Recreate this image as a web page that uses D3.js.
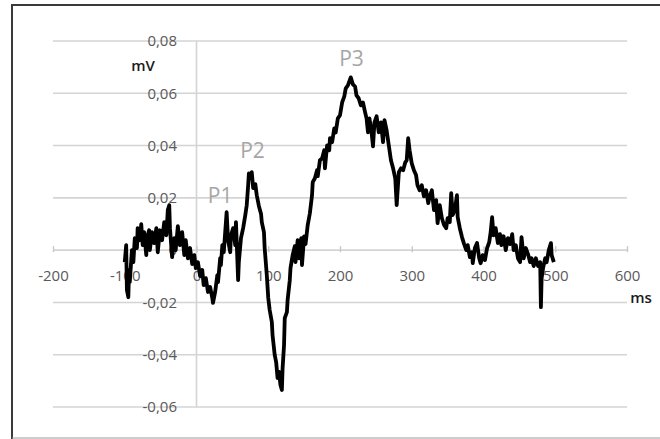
<!DOCTYPE html>
<html>
<head>
<meta charset="utf-8">
<script src="https://cdn.jsdelivr.net/npm/d3@7"></script>
<style>
  html, body { margin: 0; padding: 0; background: #fff; }
  svg { display: block; }
</style>
</head>
<body>
<svg id="chart" width="660" height="439"></svg>
<script>
// ---- data ----
const timesMs = [
  -100,-98,-97,-95,-94,-93,-90,-88,-86,-83,-82,-79,-77,-75,-73,-70,-69,-66,-65,-62,
  -59,-56,-54,-51,-48,-45,-42,-40,-38,-37,-34,-31,-29,-26,-23,-20,-17,-15,-12,-9,
  -6,-3,-1,2,5,8,10,13,16,19,22,23,26,29,30,33,34,36,38,40,
  42,44,47,48,51,54,55,58,59,62,65,68,70,72,73,76,77,79,82,84,
  87,90,91,94,95,98,100,102,105,106,109,111,113,115,117,119,120,122,123,126,
  127,130,131,134,137,138,141,143,146,147,150,152,155,158,161,162,165,168,169,172,
  175,178,179,182,185,186,189,192,194,197,200,203,206,208,211,214,215,218,221,223,
  226,229,232,235,237,239,241,244,246,248,251,254,257,260,262,265,268,271,274,277,
  279,282,285,288,291,293,295,297,300,303,306,308,311,314,317,320,323,325,328,331,
  334,336,339,342,345,348,350,353,355,357,360,363,364,367,370,373,376,378,381,384,
  385,388,391,394,396,399,402,405,408,410,412,414,417,420,423,425,428,431,434,437,
  440,442,445,448,451,453,456,459,462,465,467,470,473,476,479,480,481,483,486,488,
  491,494,495,498
];
const valuesMv = [
  -0.0046,0.0019,-0.0153,-0.018,-0.0076,-0.0122,0,-0.0046,0.0046,0.0008,0.0084,0.0038,0.0099,0.0019,0.0069,-0.0019,0.0046,0.0076,0,0.0069,
  0.0027,0.0084,-0.0008,0.0076,0.0038,0.0107,0.0057,0.0153,0.0172,0.0084,-0.0027,0.0046,0,0.0092,0.0019,0.0069,-0.0019,0.0038,-0.0031,0.0008,
  -0.0053,-0.0019,-0.0069,-0.0046,-0.0099,-0.0076,-0.0134,-0.0107,-0.016,-0.0141,-0.0183,-0.0202,-0.016,-0.0096,-0.0122,-0.0031,-0.0057,0.0019,-0.0008,0.0069,
  0.0145,0.0038,-0.0008,0.0057,0.0084,0.0019,0.0107,-0.0115,-0.0046,0.0046,0.0084,0.0134,0.0172,0.0248,0.0294,0.0275,0.0298,0.0237,0.0252,0.021,
  0.0168,0.0138,0.0107,0.0069,0.0008,-0.0096,-0.0183,-0.0229,-0.0275,-0.0325,-0.0401,-0.0428,-0.0489,-0.0466,-0.0516,-0.0535,-0.0451,-0.0363,-0.026,-0.0237,
  -0.0191,-0.0115,-0.0069,-0.0019,0.0015,-0.0046,0.0038,-0.0031,0.0046,-0.0057,0.0053,0.0023,0.0096,0.0141,0.021,0.026,0.0275,0.0306,0.0283,0.0344,
  0.0351,0.0382,0.0313,0.0401,0.0382,0.0428,0.0413,0.0466,0.045,0.0504,0.0516,0.0565,0.0588,0.0619,0.063,0.0653,0.0661,0.0634,0.0626,0.0592,
  0.0581,0.0554,0.0565,0.0527,0.0504,0.0451,0.0504,0.0451,0.0397,0.0489,0.0512,0.0451,0.0489,0.0413,0.0497,0.0458,0.0401,0.0344,0.0313,0.0275,
  0.0172,0.0298,0.0313,0.0306,0.0336,0.0344,0.0428,0.0382,0.0332,0.0306,0.0287,0.0248,0.0229,0.0248,0.0206,0.0229,0.018,0.0206,0.0229,0.0153,
  0.0191,0.0103,0.0172,0.0122,0.0096,0.0084,0.0122,0.0107,0.0218,0.0134,0.0153,0.021,0.0126,0.0084,0.005,0.0023,0,0.0019,-0.0027,-0.0008,
  -0.005,0.0008,0.0027,-0.0031,-0.005,-0.0019,-0.0038,0.0008,0.0031,0.0069,0.0126,0.0057,0.0084,0.0027,0.0061,0.0019,0.0053,0,0.0046,0.0023,
  0.0061,0,0.0019,-0.0031,-0.0046,0.005,-0.0031,0.0008,-0.0015,-0.0046,-0.0031,-0.0061,-0.0031,-0.0061,-0.0046,-0.0218,-0.0107,-0.0069,-0.0031,-0.0046,
  0,0.0027,-0.0019,-0.0046
];
const xTicks = [-200, -100, 0, 100, 200, 300, 400, 500, 600];
const yTicks = [-0.06, -0.04, -0.02, 0, 0.02, 0.04, 0.06, 0.08];
const peakLabels = ["P1", "P2", "P3"];
const peakTimes = [33, 78, 216];
const peakValues = [0.0182, 0.0352, 0.0703];

// ---- drawing ----
const svg = d3.select("#chart");
const x = d3.scaleLinear().domain([-200, 600]).range([53, 627]);
const y = d3.scaleLinear().domain([-0.06, 0.08]).range([407, 41]);
const fmtY = v => v === 0 ? "0" : v.toFixed(2).replace(".", ",");
const fontFam = "'Open Sans', sans-serif";

// frame
svg.append("line").attr("x1", 12).attr("y1", 5).attr("x2", 660).attr("y2", 5)
  .attr("stroke", "#3a3a3a").attr("stroke-width", 2);
svg.append("line").attr("x1", 12).attr("y1", 4).attr("x2", 12).attr("y2", 439)
  .attr("stroke", "#3a3a3a").attr("stroke-width", 2);
svg.append("line").attr("x1", 12).attr("y1", 438).attr("x2", 660).attr("y2", 438)
  .attr("stroke", "#9a9a9a").attr("stroke-width", 1);

// horizontal gridlines
svg.append("g").selectAll("line").data(yTicks).join("line")
  .attr("x1", x(-200)).attr("x2", x(600))
  .attr("y1", d => y(d)).attr("y2", d => y(d))
  .attr("stroke", "#d4d4d4").attr("stroke-width", 1.6);

// vertical axis at x=0
svg.append("line").attr("x1", x(0)).attr("x2", x(0))
  .attr("y1", y(0.08)).attr("y2", y(-0.06))
  .attr("stroke", "#d4d4d4").attr("stroke-width", 1.6);

// x-axis through y=0
const xAxis = d3.axisBottom(x).tickValues(xTicks).tickSizeInner(3).tickSizeOuter(0)
  .tickFormat(d => String(d)).tickPadding(17);
const gx = svg.append("g").attr("transform", `translate(0,${y(0)})`).call(xAxis);
gx.select(".domain").remove();
gx.selectAll(".tick line").attr("y1", -4).attr("y2", 2).attr("stroke", "#c8c8c8").attr("stroke-width", 1.4);
gx.selectAll(".tick text").attr("fill", "#595959")
  .style("font-family", fontFam).style("font-size", "15px");

// y-axis labels
const yAxis = d3.axisLeft(y).tickValues(yTicks).tickSize(0).tickPadding(0).tickFormat(fmtY);
const gy = svg.append("g").attr("transform", `translate(177,0)`).call(yAxis);
gy.select(".domain").remove();
gy.selectAll(".tick text").attr("fill", "#595959")
  .style("font-family", fontFam).style("font-size", "15px");

// axis titles
svg.append("text").attr("x", 143).attr("y", 71).attr("text-anchor", "middle")
  .attr("fill", "#1a1a1a").style("font-family", fontFam)
  .style("font-size", "15px").style("font-weight", "600").text("mV");
svg.append("text").attr("x", 641).attr("y", 303).attr("text-anchor", "middle")
  .attr("fill", "#1a1a1a").style("font-family", fontFam)
  .style("font-size", "15px").style("font-weight", "600").text("ms");

// peak labels
svg.append("g").selectAll("text").data(peakLabels).join("text")
  .attr("x", (d, i) => x(peakTimes[i])).attr("y", (d, i) => y(peakValues[i]))
  .attr("text-anchor", "middle").attr("fill", "#a6a6a6")
  .style("font-family", fontFam).style("font-size", "21px")
  .text(d => d);

// waveform
const line = d3.line().x((d, i) => x(timesMs[i])).y((d, i) => y(valuesMv[i]));
svg.append("path").datum(valuesMv).attr("d", line)
  .attr("fill", "none").attr("stroke", "#000").attr("stroke-width", 3.8)
  .attr("stroke-linejoin", "round");
</script>
</body>
</html>
